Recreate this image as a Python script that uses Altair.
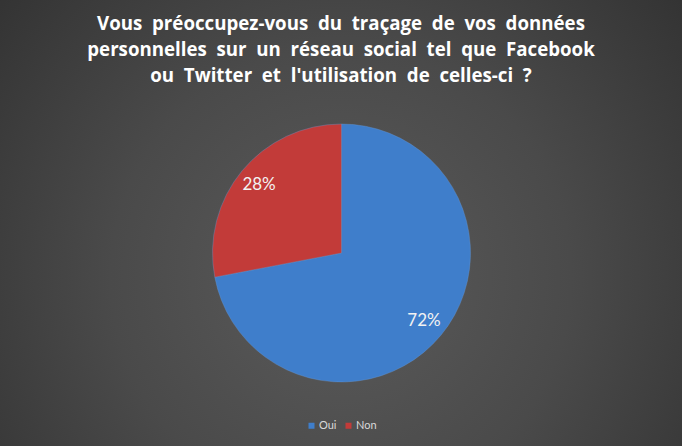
import altair as alt
import pandas as pd

categories = ["Oui", "Non"]
values = [72, 28]
labels = ["72%", "28%"]
order = [1, 2]
colors = ["#3f7ecb", "#c23b39"]
title_lines = [
    "Vous préoccupez-vous du traçage de vos données",
    "personnelles sur un réseau social tel que Facebook",
    "ou Twitter et l'utilisation de celles-ci ?",
]
# Excel-style wide word spacing
title_lines = [s.replace(" ", "\u00a0 ") for s in title_lines]

df = pd.DataFrame({"cat": categories, "val": values, "label": labels, "ord": order})

W, H = 682, 446

bg = alt.Chart(pd.DataFrame({"a": [0]})).mark_rect(
    fill=alt.Gradient(
        gradient="radial",
        stops=[
            alt.GradientStop(color="#5b5b5b", offset=0),
            alt.GradientStop(color="#4a4a4a", offset=0.45),
            alt.GradientStop(color="#2c2c2c", offset=1),
        ],
        x1=0.5, y1=0.58, r1=0,
        x2=0.5, y2=0.58, r2=0.75,
    ),
    strokeWidth=0,
).encode(x=alt.value(0), x2=alt.value(W), y=alt.value(0), y2=alt.value(H))

base = alt.Chart(df).encode(
    theta=alt.Theta("val:Q", stack=True),
    order=alt.Order("ord:Q"),
)

arc = base.mark_arc(
    radius=129, stroke="#6a9ad6", strokeWidth=0.6, strokeOpacity=0.6
).encode(
    x=alt.value(341.5),
    y=alt.value(253),
    color=alt.Color(
        "cat:N",
        scale=alt.Scale(domain=categories, range=colors),
        sort=categories,
        legend=alt.Legend(
            title=None,
            orient="none",
            legendX=306,
            legendY=420,
            direction="horizontal",
            symbolType="square",
            symbolSize=36,
            symbolStrokeWidth=0,
            labelColor="#d9d9d9",
            labelFont="Lato",
            labelFontSize=11,
            columnPadding=6,
            symbolOffset=0,
            labelOffset=2,
        ),
    ),
)

txt = base.mark_text(
    radius=107, font="Lato", fontSize=17, color="#f2f2f2"
).encode(
    x=alt.value(341.5),
    y=alt.value(253),
    text="label:N",
)

chart = (
    alt.layer(bg, arc, txt)
    .properties(
        width=W,
        height=H,
        padding=0,
        autosize=alt.AutoSizeParams(type="none"),
        title=alt.TitleParams(
            text=title_lines,
            orient="top",
            anchor="middle",
            frame="group",
            baseline="top",
            offset=-86,
            font="Open Sans",
            fontSize=18.7,
            fontWeight="bold",
            color="#ffffff",
            lineHeight=26,
        ),
    )
    .configure_view(stroke=None)
    .configure(background="#2c2c2c")
)

chart.save("out.html", embed_options={"renderer": "svg", "actions": False})
